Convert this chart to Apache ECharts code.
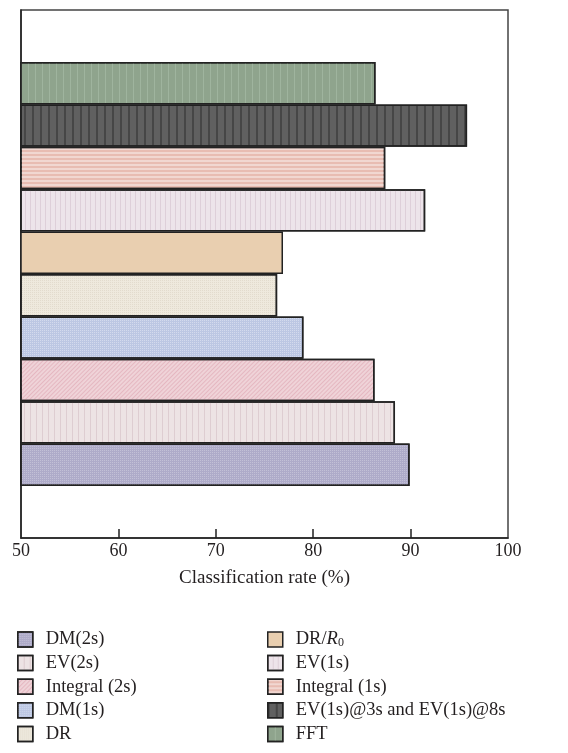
<!DOCTYPE html>
<html>
<head>
<meta charset="utf-8">
<script src="https://cdn.jsdelivr.net/npm/echarts@6/dist/echarts.min.js"></script>
<style>html,body{margin:0;padding:0;background:#fff;}#c{width:568px;height:753px;}</style>
</head>
<body>
<div id="c"></div>
<script>
// Categories from bottom to top
const categories = ["DM(2s)", "EV(2s)", "Integral (2s)", "DM(1s)", "DR", "DR/R0", "EV(1s)", "Integral (1s)", "EV(1s)@3s and EV(1s)@8s", "FFT"];
const values = [89.9, 88.4, 86.3, 79.0, 76.3, 76.9, 91.5, 87.4, 95.8, 86.4];
const legendCol1 = ["DM(2s)", "EV(2s)", "Integral (2s)", "DM(1s)", "DR"];
const legendCol2 = ["DR/R0", "EV(1s)", "Integral (1s)", "EV(1s)@3s and EV(1s)@8s", "FFT"];
const xTicks = [50, 60, 70, 80, 90, 100];

const colors = ["#aeabc9", "#ede3e4", "#efd3d8", "#bcc7e3", "#eee9dd", "#e9cfb0", "#ede4ea", "#e8bcb2", "#606060", "#8fa48d"];
const decals = [
  {symbol:'rect', symbolSize:1, dashArrayX:[1,1], dashArrayY:[1,1], color:'rgba(255,255,255,0.25)'},
  {symbol:'rect', symbolSize:1, dashArrayX:[1,5], dashArrayY:[10,0], color:'rgba(180,140,150,0.25)'},
  {symbol:'rect', symbolSize:1, dashArrayX:[10,0], dashArrayY:[1,2], rotation:-Math.PI/4, color:'rgba(205,120,140,0.3)'},
  {symbol:'rect', symbolSize:1, dashArrayX:[1,1], dashArrayY:[1,1], color:'rgba(255,255,255,0.35)'},
  {symbol:'rect', symbolSize:1, dashArrayX:[1,1], dashArrayY:[1,1], color:'rgba(200,190,170,0.3)'},
  null,
  {symbol:'rect', symbolSize:1, dashArrayX:[1,4], dashArrayY:[10,0], color:'rgba(190,160,180,0.3)'},
  {symbol:'rect', symbolSize:1, dashArrayX:[10,0], dashArrayY:[2,2], color:'rgba(255,255,255,0.4)'},
  {symbol:'rect', symbolSize:1, dashArrayX:[2,6], dashArrayY:[10,0], color:'rgba(40,40,40,0.45)'},
  {symbol:'rect', symbolSize:1, dashArrayX:[1,6], dashArrayY:[10,0], color:'rgba(200,220,200,0.3)'}
];
const displayNames = {"DR/R0": "DR/{i|R}{s|0}"};

const serif = '"Liberation Serif", "DejaVu Serif", serif';

const series = categories.map((name, i) => {
  const data = categories.map((c, j) => j === i ? values[i] : '-');
  const itemStyle = {color: colors[i], borderColor: '#222', borderWidth: 1.5};
  if (decals[i]) itemStyle.decal = decals[i];
  return {
    name: name, type: 'bar', xAxisIndex: 1, yAxisIndex: 1,
    data: data, barWidth: '100%', barGap: '-100%', barCategoryGap: 0,
    itemStyle: itemStyle, emphasis: {disabled: true}, animation: false
  };
});

const legendText = {
  fontFamily: serif, fontSize: 18.5, color: '#231f20', padding: [0, 0, 0, 8],
  rich: {
    i: {fontFamily: serif, fontSize: 18.5, fontStyle: 'italic', color: '#231f20'},
    s: {fontFamily: serif, fontSize: 12, color: '#231f20', verticalAlign: 'bottom'}
  }
};
function mkLegend(names, left) {
  return {
    data: names, orient: 'vertical', left: left, top: 630, padding: 0,
    icon: 'rect', itemWidth: 15, itemHeight: 15, itemGap: 4.6,
    textStyle: legendText, selectedMode: false,
    formatter: n => displayNames[n] || n,
    itemStyle: {borderColor: '#222', borderWidth: 1.5}
  };
}

const chart = echarts.init(document.getElementById('c'), null, {renderer: 'canvas'});
chart.setOption({
  animation: false,
  aria: {enabled: false, decal: {show: true}},
  grid: [
    {left: 21, right: 60, top: 10, bottom: 215, show: true, borderColor: '#444', borderWidth: 1.5, containLabel: false},
    {left: 21, right: 60, top: 62, bottom: 267, containLabel: false}
  ],
  xAxis: [
    {gridIndex: 0, type: 'value', min: xTicks[0], max: xTicks[xTicks.length-1], interval: 10,
     axisLine: {show: true, lineStyle: {color: '#222', width: 1.5}},
     axisTick: {show: true, inside: true, length: 9, lineStyle: {color: '#222', width: 1.5},
       customValues: xTicks.slice(1, -1)},
     axisLabel: {fontFamily: serif, fontSize: 18, color: '#231f20', margin: 4, customValues: xTicks},
     splitLine: {show: false},
     name: 'Classification rate (%)', nameLocation: 'middle', nameGap: 31,
     nameTextStyle: {fontFamily: serif, fontSize: 19, color: '#231f20'}},
    {gridIndex: 1, type: 'value', min: xTicks[0], max: xTicks[xTicks.length-1], show: false}
  ],
  yAxis: [
    {gridIndex: 0, type: 'value', axisLine: {show: true, lineStyle: {color: '#222', width: 1.5}}, axisTick: {show: false}, axisLabel: {show: false}, splitLine: {show: false}},
    {gridIndex: 1, type: 'category', data: categories, show: false}
  ],
  legend: [mkLegend(legendCol1, 17), mkLegend(legendCol2, 267)],
  series: series
});
</script>
</body>
</html>
